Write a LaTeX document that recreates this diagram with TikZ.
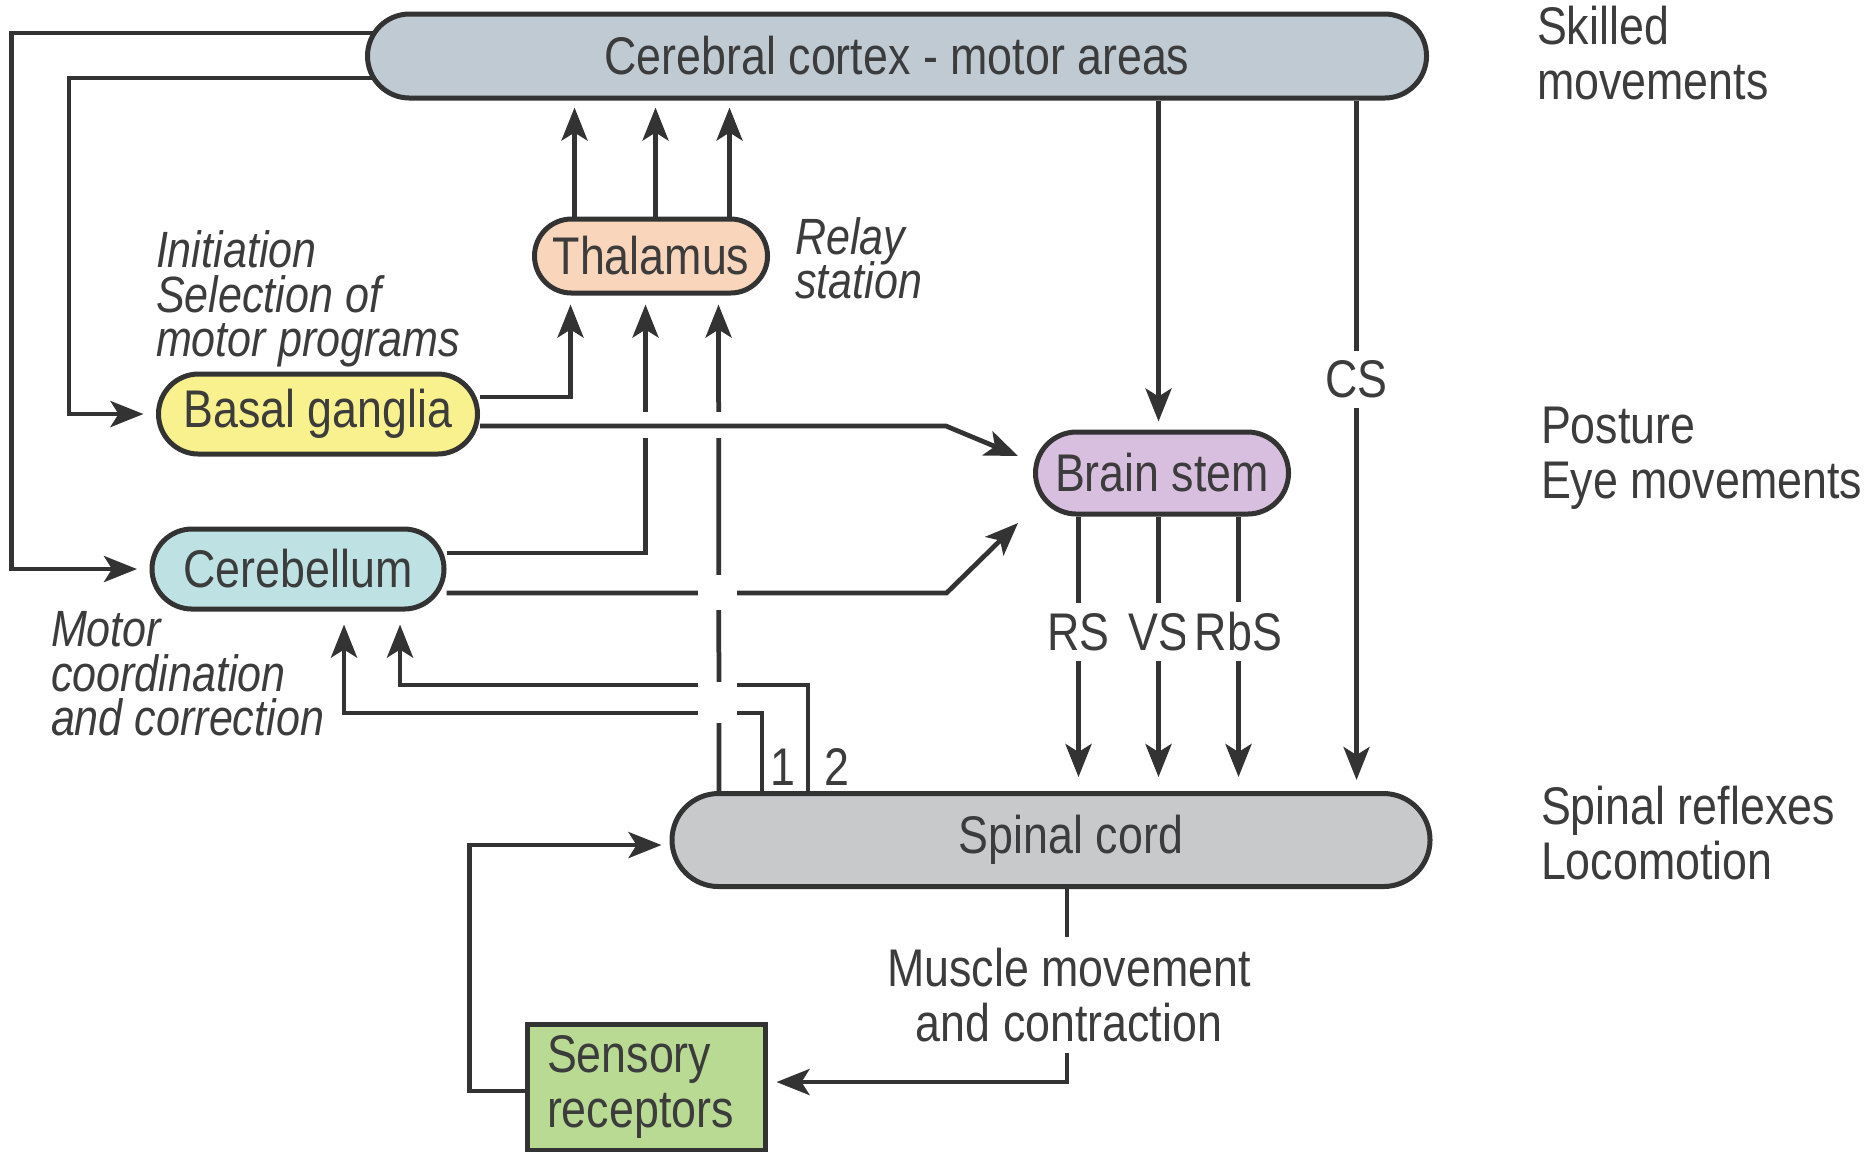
\documentclass[tikz,border=0pt]{standalone}
\usepackage{fontspec}
\setmainfont{Liberation Sans}[FakeStretch=0.845]
\usetikzlibrary{arrows.meta,backgrounds}

\definecolor{linegray}{HTML}{333333}
\definecolor{txtgray}{HTML}{3C3C3C}
\definecolor{cortexblue}{HTML}{BFCAD3}
\definecolor{thalpeach}{HTML}{F9D6BB}
\definecolor{basalyellow}{HTML}{F8F18D}
\definecolor{cerebcyan}{HTML}{BEE2E3}
\definecolor{stemlilac}{HTML}{D8BFE0}
\definecolor{cordgray}{HTML}{C8C9CB}
\definecolor{sensgreen}{HTML}{B9DA93}

\newcommand\tightlines{\setlength{\lineskiplimit}{-20pt}}

\begin{document}
\begin{tikzpicture}[x=0.2pt,y=-0.2pt,
    >={Stealth[length=6.6pt,width=5.2pt,inset=1.6pt]},
    area/.style={rectangle, draw=linegray, line width=1pt, text=txtgray,
      inner sep=0pt, font=\fontsize{10.6}{11}\selectfont},
    wire/.style={draw=linegray, line width=0.95pt},
    side/.style={text=txtgray, align=left, inner sep=0pt,
      font=\fontsize{10.6}{11}\selectfont},
    note/.style={text=txtgray, align=left, inner sep=0pt,
      font=\fontsize{10.2}{8.9}\selectfont\itshape\tightlines},
    tract/.style={fill=white, text=txtgray, inner sep=2pt, align=center,
      font=\fontsize{10.6}{11}\selectfont},
    cutout/.style={fill=white, draw=none}]

    \useasboundingbox (0,0) rectangle (1873,1151);

    % centres
    \node[area, fill=cortexblue, minimum width=211.8pt, minimum height=16.8pt,
      rounded corners=8.4pt] (cortex) at (897,56) {Cerebral cortex - motor areas};
    \node[area, fill=thalpeach, minimum width=46.6pt, minimum height=14.8pt,
      rounded corners=7.4pt] (thal) at (651,256) {Thalamus};
    \node[area, fill=basalyellow, minimum width=63.8pt, minimum height=16pt,
      rounded corners=8pt] (basal) at (318,414) {Basal ganglia};
    \node[area, fill=cerebcyan, minimum width=58.4pt, minimum height=16pt,
      rounded corners=8pt] (cereb) at (298,569) {Cerebellum};
    \node[area, fill=stemlilac, minimum width=50.6pt, minimum height=16.4pt,
      rounded corners=8.2pt] (stem) at (1162,473) {Brain stem};
    \node[area, fill=cordgray, minimum width=151.6pt, minimum height=18.6pt,
      rounded corners=9.3pt] (cord) at (1051,840) {\hspace*{8pt}Spinal cord};
    \node[area, fill=sensgreen, minimum width=47.6pt, minimum height=25.2pt,
      text width=39.6pt, align=left, inner xsep=4pt] (sens) at (646,1087)
      {Sensory\\receptors};

    % roles
    \node[side, anchor=west] (skill) at (1536,53) {Skilled\\movements};
    \node[side, anchor=west] (posture) at (1540,458) {Posture\\Eye movements};
    \node[side, anchor=west] (reflex) at (1540,833) {Spinal reflexes\\Locomotion};
    \node[note, anchor=west] (relay) at (794,258) {Relay\\station};
    \node[note, anchor=west] (init) at (155,299) {Initiation\\Selection of\\motor programs};
    \node[note, anchor=west] (coord) at (50,674) {Motor\\coordination\\and correction};
    \node[tract] (muscle) at (1069,995) {Muscle movement\\and contraction};
    \node[side] (one) at (783,767) {1};
    \node[side] (two) at (837,767) {2};

    \begin{pgfonlayer}{background}
      % loops from the cortex
      \draw[wire,->,shorten >=2.5pt] ([xshift=8pt,yshift=4.6pt]cortex.west)
        -| ([xshift=-27.6pt]cereb.west) -- (cereb.west);
      \draw[wire,->,shorten >=2.5pt] ([xshift=6pt,yshift=-4.4pt]cortex.west)
        -| ([xshift=-17.4pt]basal.west) -- (basal.west);

      % into the thalamus
      \draw[wire,->,shorten >=1.8pt] ([yshift=3.4pt]basal.east) -| ([xshift=-16.1pt]thal.south);
      \draw[wire,->,shorten >=1.8pt] ([yshift=3.2pt]cereb.east) -| ([xshift=-1.1pt]thal.south);
      \draw[wire,->,shorten >=1.8pt] ([xshift=-66.4pt]cord.north) -- ([xshift=13.5pt]thal.south);
      \fill[cutout] (640,412) rectangle (652,438);
      \fill[cutout] (713,412) rectangle (725,438);

      % into the brain stem
      \draw[wire,->] ([yshift=-2.4pt]basal.east) -- ++(466,0)
        -- ([xshift=-3pt,yshift=3.4pt]stem.west);
      \draw[wire,->] ([yshift=-4.8pt]cereb.east) -- ++(500,0)
        -- ([xshift=-3pt,yshift=-10pt]stem.west);

      % spinal feedback 1 and 2
      \draw[wire,->,shorten >=2.6pt] ([xshift=-57.8pt]cord.north) -- ++(0,-78)
        -| ([xshift=9.2pt]cereb.south);
      \draw[wire,->,shorten >=2.6pt] ([xshift=-48.6pt]cord.north) -- ++(0,-106)
        -| ([xshift=20.4pt]cereb.south);
      \fill[cutout] (698,575) rectangle (737,610);
      \fill[cutout] (698,682) rectangle (737,723);

      % thalamus to cortex
      \foreach \dx in {-15.3,0.9,15.7}
        \draw[wire,->,shorten >=1.4pt] ([xshift=\dx pt]thal.north) coordinate (t)
          -- (t |- cortex.south);

      % descending
      \draw[wire,->,shorten >=1.6pt] ([xshift=52.3pt]cortex.south) coordinate (k)
        -- (k |- stem.north);
      \foreach \dx/\tname in {-16.7/RS,-0.7/VS,15.3/RbS}
        \draw[wire,->,shorten >=2.8pt] ([xshift=\dx pt]stem.south) coordinate (s)
          -- (s |- cord.north) node[tract,pos=0.42] (\tname) {\tname};
      \draw[wire,->,shorten >=2.2pt] ([xshift=91.9pt]cortex.south) coordinate (c)
        -- (c |- cord.north) node[tract,pos=0.404] (cs) {CS};

      % muscle loop
      \draw[wire] ([xshift=3.2pt]cord.south) coordinate (m) -- (m |- muscle.north);
      \draw[wire,->,shorten >=1.8pt] (m |- muscle.south) |- ([yshift=1pt]sens.east);
      \draw[wire,->,shorten >=1.6pt] ([yshift=-0.8pt]sens.west) -- ++(-55,0)
        |- ([yshift=-1pt]cord.west);
    \end{pgfonlayer}

  \end{tikzpicture}
\end{document}
